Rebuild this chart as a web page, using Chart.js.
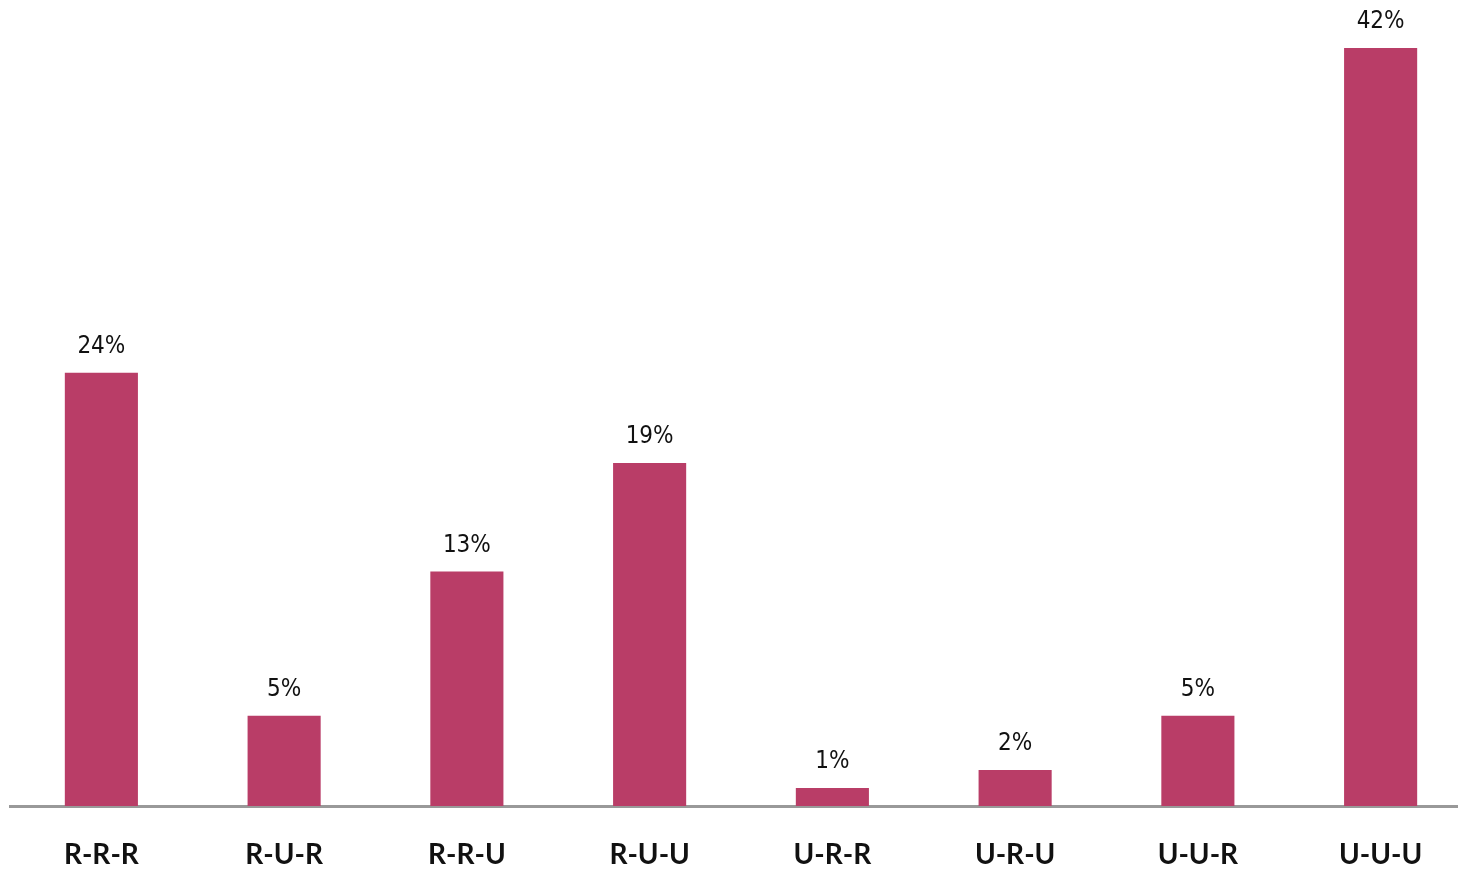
<!DOCTYPE html>
<html>
<head>
<meta charset="utf-8">
<script src="https://cdn.jsdelivr.net/npm/chart.js@4/dist/chart.umd.min.js"></script>
<style>
  html, body { margin: 0; padding: 0; background: #fff; }
  #wrap { width: 1458px; height: 870px; overflow: hidden; }
  #c { display: block; }
</style>
</head>
<body>
<div id="wrap"><canvas id="c" width="1472" height="870"></canvas></div>
<script>
const categories = ['R-R-R', 'R-U-R', 'R-R-U', 'R-U-U', 'U-R-R', 'U-R-U', 'U-U-R', 'U-U-U'];
const shares = [24, 5, 13, 19, 1, 2, 5, 42];

// Percentage label written above each bar
const valueLabels = {
  id: 'valueLabels',
  afterDatasetsDraw(chart) {
    const ctx = chart.ctx;
    const meta = chart.getDatasetMeta(0);
    ctx.save();
    ctx.font = '24px "DejaVu Sans Condensed", "DejaVu Sans", sans-serif';
    if ('fontStretch' in ctx) ctx.fontStretch = 'condensed';
    ctx.fillStyle = '#111';
    ctx.textAlign = 'center';
    ctx.textBaseline = 'middle';
    meta.data.forEach((bar, i) => {
      ctx.fillText(shares[i] + '%', bar.x, bar.y - 26);
    });
    ctx.restore();
  }
};

new Chart(document.getElementById('c'), {
  type: 'bar',
  data: {
    labels: categories,
    datasets: [{
      data: shares,
      backgroundColor: '#b93d67',
      barPercentage: 0.4,
      categoryPercentage: 1.0
    }]
  },
  options: {
    responsive: false,
    animation: false,
    layout: { padding: { left: 10, right: 0, top: 48, bottom: 0 } },
    plugins: { legend: { display: false }, tooltip: { enabled: false } },
    scales: {
      x: {
        grid: { display: false },
        border: { color: '#999', width: 3 },
        afterFit(scale) { scale.height = 64; },
        ticks: {
          color: '#111',
          padding: 24,
          maxRotation: 0,
          font: { family: 'Lato', size: 28, weight: 'bold' }
        }
      },
      y: {
        display: false,
        min: 0,
        max: 42
      }
    }
  },
  plugins: [valueLabels]
});
</script>
</body>
</html>
